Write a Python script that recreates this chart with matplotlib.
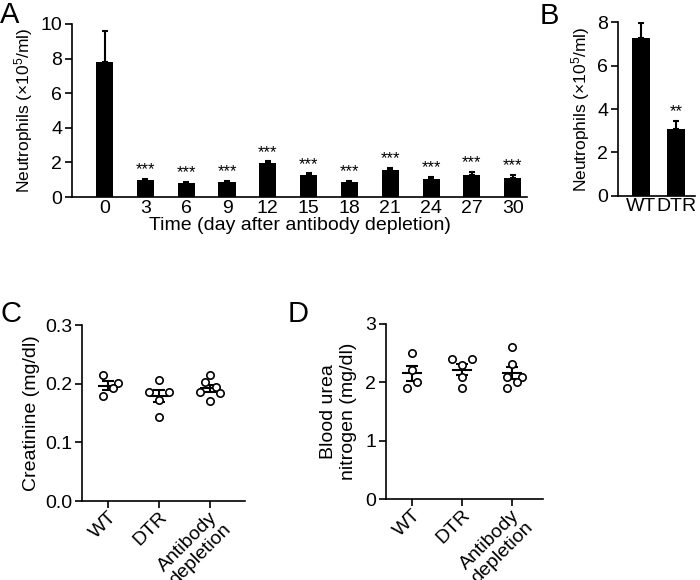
import numpy as np
import matplotlib
matplotlib.use("Agg")
import matplotlib.pyplot as plt

plt.rcParams['font.family'] = ['Liberation Sans', 'DejaVu Sans']
plt.rcParams['mathtext.fontset'] = 'custom'
plt.rcParams['mathtext.rm'] = 'Liberation Sans'
plt.rcParams['mathtext.it'] = 'Liberation Sans'

# ---- Panel A data ----
days = ['0', '3', '6', '9', '12', '15', '18', '21', '24', '27', '30']
neut_mean = [7.82, 0.98, 0.83, 0.88, 1.98, 1.29, 0.88, 1.56, 1.04, 1.27, 1.12]
neut_err = [1.78, 0.05, 0.05, 0.05, 0.08, 0.07, 0.06, 0.10, 0.12, 0.17, 0.15]
neut_sig = ['', '***', '***', '***', '***', '***', '***', '***', '***', '***', '***']

# ---- Panel B data ----
b_groups = ['WT', 'DTR']
b_mean = [7.28, 3.07]
b_err = [0.69, 0.37]
b_sig = ['', '**']

# ---- Panel C / D data ----
groups = ['WT', 'DTR', 'Antibody\ndepletion']
creat_wt = [0.215, 0.201, 0.192, 0.179]
creat_dtr = [0.206, 0.185, 0.185, 0.173, 0.143]
creat_ab = [0.215, 0.202, 0.195, 0.186, 0.184, 0.171]
bun_wt = [2.50, 2.21, 2.00, 1.90]
bun_dtr = [2.40, 2.40, 2.30, 2.10, 1.90]
bun_ab = [2.60, 2.31, 2.10, 2.10, 2.00, 1.90]

# horizontal jitter of points (layout only)
jit_c = [[-0.1, 0.2, 0.1, -0.1],
         [0.0, -0.2, 0.2, 0.0, 0.0],
         [0.0, -0.1, 0.12, -0.2, 0.2, 0.0]]
jit_d = [[0.0, 0.0, 0.1, -0.1],
         [-0.2, 0.2, 0.0, 0.0, 0.0],
         [0.0, 0.0, -0.1, 0.2, 0.1, -0.1]]

W, H = 700, 580
fig = plt.figure(figsize=(7, 5.8), dpi=100)

def ax_px(l, t, r, b):
    return fig.add_axes([l / W, 1 - b / H, (r - l) / W, (b - t) / H])

FS = 14
YL = r'Neutrophils (×10$^5$/ml)'

def style(ax):
    for s in ['top', 'right']:
        ax.spines[s].set_visible(False)
    for s in ['left', 'bottom']:
        ax.spines[s].set_linewidth(1.2)
    ax.tick_params(direction='out', length=5, width=1.2, labelsize=FS, pad=2)

# ---- A ----
axA = ax_px(72, 24, 527, 197)
x = np.arange(len(days))
axA.bar(x, neut_mean, width=0.42, color='black')
axA.errorbar(x, neut_mean, yerr=[np.zeros(len(x)), neut_err], fmt='none',
             ecolor='black', elinewidth=1.5, capsize=2.5, capthick=1.5)
for xi, m, e, s in zip(x, neut_mean, neut_err, neut_sig):
    if s:
        axA.text(xi, m + e + 0.1, s, ha='center', va='bottom', fontsize=12)
axA.set_xlim(-0.8, 10.35)
axA.set_ylim(0, 10)
axA.set_yticks([0, 2, 4, 6, 8, 10])
axA.set_xticks(x)
axA.set_xticklabels(days)
style(axA)
axA.tick_params(axis='x', length=0, pad=2)
axA.set_ylabel(YL, fontsize=12.5, labelpad=4)
axA.set_xlabel('Time (day after antibody depletion)', fontsize=FS, labelpad=0)

# ---- B ----
axB = ax_px(618, 22.3, 695, 195.7)
xb = np.arange(len(b_groups))
axB.bar(xb, b_mean, width=0.52, color='black')
axB.errorbar(xb, b_mean, yerr=[np.zeros(len(xb)), b_err], fmt='none',
             ecolor='black', elinewidth=1.5, capsize=2.5, capthick=1.5)
for xi, m, e, s in zip(xb, b_mean, b_err, b_sig):
    if s:
        axB.text(xi, m + e + 0.08, s, ha='center', va='bottom', fontsize=12)
axB.set_xlim(-0.657, 1.54)
axB.set_ylim(0, 8)
axB.set_yticks([0, 2, 4, 6, 8])
axB.set_xticks(xb)
axB.set_xticklabels(b_groups)
style(axB)
axB.tick_params(axis='x', length=0, pad=2)
axB.set_ylabel(YL, fontsize=12.5, labelpad=4)

# ---- scatter panels ----
def scatter_panel(ax, data, jit):
    for i, (vals, jj) in enumerate(zip(data, jit)):
        vals = np.asarray(vals)
        m = vals.mean()
        sem = vals.std(ddof=1) / np.sqrt(len(vals))
        ax.plot([i - 0.18, i + 0.18], [m, m], color='black', lw=1.5, zorder=2)
        ax.errorbar([i], [m], yerr=[[sem], [sem]], fmt='none', ecolor='black',
                    elinewidth=1.5, capsize=4, capthick=1.5, zorder=2)
        ax.scatter(i + np.asarray(jj), vals, s=28, facecolors='white',
                   edgecolors='black', linewidths=1.2, zorder=3)
    ax.set_xticks(range(len(groups)))
    ax.set_xticklabels(groups, rotation=45, ha='right', rotation_mode='anchor',
                       multialignment='center', fontsize=13, linespacing=1.05)
    style(ax)
    ax.tick_params(axis='x', pad=0)

axC = ax_px(82, 325, 245, 501)
scatter_panel(axC, [creat_wt, creat_dtr, creat_ab], jit_c)
axC.set_xlim(-0.51, 2.69)
axC.set_ylim(0, 0.3)
axC.set_yticks([0.0, 0.1, 0.2, 0.3])
axC.set_yticklabels(['0.0', '0.1', '0.2', '0.3'])
axC.set_ylabel('Creatinine (mg/dl)', fontsize=FS, labelpad=4)

axD = ax_px(386, 324, 543, 499)
scatter_panel(axD, [bun_wt, bun_dtr, bun_ab], jit_d)
axD.set_xlim(-0.52, 2.62)
axD.set_ylim(0, 3)
axD.set_yticks([0, 1, 2, 3])
axD.set_ylabel('Blood urea\nnitrogen (mg/dl)', fontsize=FS, labelpad=6)

# panel letters
for lab, px, py in [('A', 0, 1), ('B', 540, 2), ('C', 0, 300), ('D', 288, 300)]:
    fig.text(px / W, 1 - py / H, lab, fontsize=21, ha='left', va='top')

fig.savefig('out.png', dpi=100)
